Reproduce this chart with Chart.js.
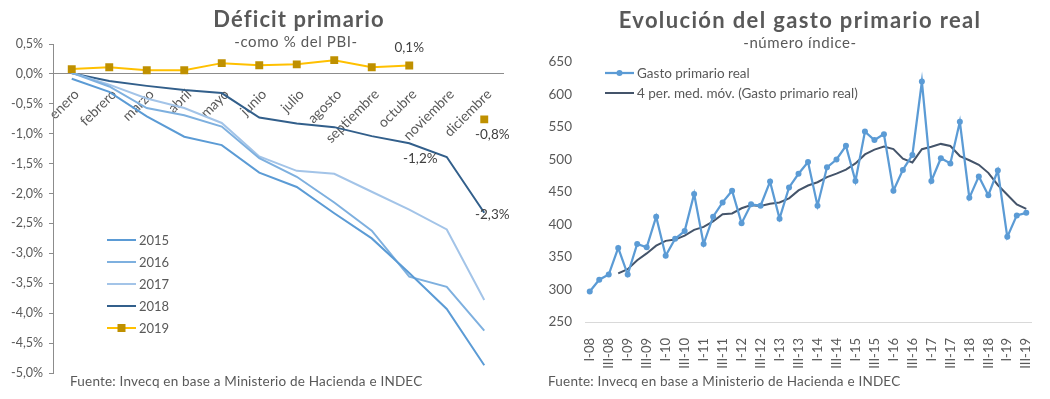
<!DOCTYPE html>
<html>
<head>
<meta charset="utf-8">
<script src="https://cdn.jsdelivr.net/npm/chart.js@4.4.1/dist/chart.umd.min.js"></script>
<style>
  html, body { margin: 0; padding: 0; background: #fff; }
  #wrap { position: relative; width: 1050px; height: 399px; overflow: hidden; font-family: 'Lato', sans-serif; color: #595959; }
  .box { position: absolute; top: 0; width: 525px; height: 399px; }
  .title { position: absolute; font-weight: 700; font-size: 22px; letter-spacing: 1.1px; white-space: nowrap; transform: translate(-50%, -50%); }
  .sub { position: absolute; font-size: 15px; letter-spacing: 0.6px; white-space: nowrap; transform: translate(-50%, -50%); }
  .src { position: absolute; font-size: 13.5px; letter-spacing: 0.2px; white-space: nowrap; transform: translateY(-50%); }
</style>
</head>
<body>
<div id="wrap">
  <div class="box" style="left:0"><canvas id="deficit" width="525" height="399"></canvas></div>
  <div class="box" style="left:525px"><canvas id="gasto" width="525" height="399"></canvas></div>
  <div class="title" style="left:299px; top:18px">Déficit primario</div>
  <div class="sub" style="left:296px; top:41px">-como % del PBI-</div>
  <div class="title" style="left:800px; top:19px; letter-spacing:1.35px">Evolución del gasto primario real</div>
  <div class="sub" style="left:800px; top:42px">-número índice-</div>
  <div class="src" style="left:70px; top:381px">Fuente: Invecq en base a Ministerio de Hacienda e INDEC</div>
  <div class="src" style="left:548px; top:381px">Fuente: Invecq en base a Ministerio de Hacienda e INDEC</div>
</div>
<script>
// Datos - déficit primario acumulado (% del PBI)
const meses = ['enero', 'febrero', 'marzo', 'abril', 'mayo', 'junio', 'julio', 'agosto', 'septiembre', 'octubre', 'noviembre', 'diciembre'];
const def2015 = [-0.08, -0.30, -0.71, -1.05, -1.19, -1.65, -1.89, -2.33, -2.75, -3.33, -3.93, -4.87];
const def2016 = [0.02, -0.21, -0.57, -0.69, -0.88, -1.41, -1.72, -2.15, -2.62, -3.39, -3.56, -4.29];
const def2017 = [0.02, -0.18, -0.41, -0.57, -0.82, -1.38, -1.62, -1.67, -1.97, -2.27, -2.60, -3.78];
const def2018 = [0.01, -0.12, -0.20, -0.27, -0.32, -0.73, -0.83, -0.89, -1.04, -1.16, -1.39, -2.32];
const def2019 = [0.08, 0.11, 0.06, 0.06, 0.18, 0.145, 0.16, 0.23, 0.11, 0.14, null, -0.76];

// Datos - gasto primario real (número índice), trimestral
const trimestres = [];
['08', '09', '10', '11', '12', '13', '14', '15', '16', '17', '18', '19'].forEach(a => {
    ['I', 'II', 'III', 'IV'].forEach(q => trimestres.push(q + '-' + a));
});
trimestres.length = 47; // hasta III-19
const gastoReal = [297, 315, 323, 364, 323, 370, 365, 412, 352, 378, 390, 447,
    370, 412, 434, 452, 402, 431, 429, 466, 409, 457, 478, 496,
    429, 488, 500, 521, 467, 543, 530, 539, 452, 484, 507, 620,
    467, 502, 494, 558, 441, 474, 445, 483, 381, 414, 418];
const mediaMovil = [null, null, null, 324.8, 331.3, 345, 355.5, 367.5, 374.8, 376.8, 383, 391.8,
    396.3, 404.8, 415.8, 417, 425, 429.8, 428.5, 432, 433.8, 440.3, 452.5, 460,
    465, 472.8, 478.3, 484.5, 494, 507.8, 515.3, 519.8, 516, 501.3, 495.5, 515.8,
    519.5, 524, 520.8, 505.3, 498.8, 491.8, 479.5, 460.8, 445.8, 430.8, 424];

Chart.defaults.font.family = "'Lato', 'Open Sans', sans-serif";
Chart.defaults.color = '#595959';
Chart.defaults.animation = false;

const fmtPct = v => v.toFixed(1).replace('.', ',') + '%';

// Leyenda dibujada dentro del área de la gráfica
const innerLegend = {
    id: 'innerLegend',
    afterDraw(chart, args, opts) {
        const ctx = chart.ctx;
        ctx.save();
        ctx.font = opts.font;
        ctx.textBaseline = 'middle';
        chart.data.datasets.forEach((ds, i) => {
            const y = opts.y + i * opts.gap;
            ctx.strokeStyle = ds.borderColor;
            ctx.lineWidth = ds.borderWidth;
            ctx.beginPath();
            ctx.moveTo(opts.x, y);
            ctx.lineTo(opts.x + opts.len, y);
            ctx.stroke();
            if (ds.pointRadius) {
                ctx.fillStyle = ds.pointBackgroundColor;
                const cx = opts.x + opts.len / 2;
                if (ds.pointStyle === 'rect') {
                    ctx.fillRect(cx - 4, y - 4, 8, 8);
                } else {
                    ctx.beginPath();
                    ctx.arc(cx, y, 3, 0, Math.PI * 2);
                    ctx.fill();
                }
            }
            ctx.fillStyle = '#595959';
            ctx.fillText(ds.label, opts.x + opts.len + 3, y + 1);
        });
        ctx.restore();
    }
};

// Etiquetas de valores puntuales
const pointLabels = {
    id: 'pointLabels',
    afterDatasetsDraw(chart, args, opts) {
        const ctx = chart.ctx;
        ctx.save();
        ctx.font = opts.font;
        ctx.fillStyle = '#404040';
        ctx.textAlign = 'center';
        ctx.textBaseline = 'middle';
        (opts.items || []).forEach(it => {
            const el = chart.getDatasetMeta(it.ds).data[it.i];
            const v = chart.data.datasets[it.ds].data[it.i];
            ctx.fillText(fmtPct(v), el.x + it.dx, el.y + it.dy);
        });
        ctx.restore();
    }
};

const lineDs = (label, data, color, extra = {}) => Object.assign({
    label, data,
    borderColor: color,
    backgroundColor: color,
    borderWidth: 2,
    pointRadius: 0,
    tension: 0,
    fill: false
}, extra);

new Chart(document.getElementById('deficit'), {
    type: 'line',
    data: {
        labels: meses,
        datasets: [
            lineDs('2015', def2015, '#5b9bd5'),
            lineDs('2016', def2016, '#7eb0df'),
            lineDs('2017', def2017, '#a3c4e8'),
            lineDs('2018', def2018, '#325f8b'),
            lineDs('2019', def2019, '#ffc000', {
                pointStyle: 'rect',
                pointRadius: 5.6,
                pointBackgroundColor: '#bf9000',
                pointBorderWidth: 0,
                order: -1
            })
        ]
    },
    options: {
        responsive: false,
        layout: { padding: { left: 0, right: 22, top: 44, bottom: 26 } },
        plugins: {
            legend: { display: false },
            tooltip: { enabled: false },
            innerLegend: { x: 107, y: 240, gap: 22, len: 29, font: "13px 'Lato'" },
            pointLabels: {
                font: "13.5px 'Lato'",
                items: [
                    { ds: 4, i: 9, dx: 0, dy: -18 },
                    { ds: 4, i: 11, dx: 8, dy: 15 },
                    { ds: 3, i: 9, dx: 11, dy: 15 },
                    { ds: 3, i: 11, dx: 8, dy: 2 }
                ]
            }
        },
        scales: {
            x: {
                position: { y: 0 },
                offset: true,
                grid: { display: false, offset: true },
                border: { display: true, color: '#8c8c8c', width: 1 },
                ticks: { minRotation: 45, maxRotation: 45, autoSkip: false, padding: 4, labelOffset: 5, font: { size: 14 } }
            },
            y: {
                min: -5, max: 0.5,
                afterFit: s => { s.width = 53; },
                grid: { display: true, drawOnChartArea: false, tickLength: 4, color: '#8c8c8c' },
                border: { display: true, color: '#8c8c8c', width: 1 },
                ticks: { stepSize: 0.5, padding: 6, font: { size: 12.5 }, callback: v => fmtPct(v) }
            }
        }
    },
    plugins: [innerLegend, pointLabels]
});

new Chart(document.getElementById('gasto'), {
    type: 'line',
    data: {
        labels: trimestres,
        datasets: [
            lineDs('Gasto primario real', gastoReal, '#5b9bd5', {
                borderWidth: 2.25,
                pointRadius: 3,
                pointBackgroundColor: '#5b9bd5',
                pointBorderWidth: 0
            }),
            lineDs('4 per. med. móv. (Gasto primario real)', mediaMovil, '#44546a', { borderWidth: 2 })
        ]
    },
    options: {
        responsive: false,
        layout: { padding: { left: 0, right: 12, top: 62, bottom: 0 } },
        plugins: {
            legend: { display: false },
            tooltip: { enabled: false },
            innerLegend: { x: 80, y: 73, gap: 20, len: 29, font: "13.5px 'Lato'" }
        },
        scales: {
            x: {
                offset: true,
                afterFit: s => { s.height = 77; },
                grid: { display: false },
                border: { display: true, color: '#d9d9d9', width: 1 },
                ticks: {
                    minRotation: 90, maxRotation: 90, autoSkip: false, padding: 8,
                    font: { size: 13 },
                    callback: (v, i) => (i % 2 === 0 ? trimestres[i] : '')
                }
            },
            y: {
                min: 250, max: 650,
                afterFit: s => { s.width = 60; },
                grid: { display: false, drawTicks: false },
                border: { display: false },
                ticks: { stepSize: 50, padding: 13, font: { size: 13.5 } }
            }
        }
    },
    plugins: [innerLegend]
});
</script>
</body>
</html>
